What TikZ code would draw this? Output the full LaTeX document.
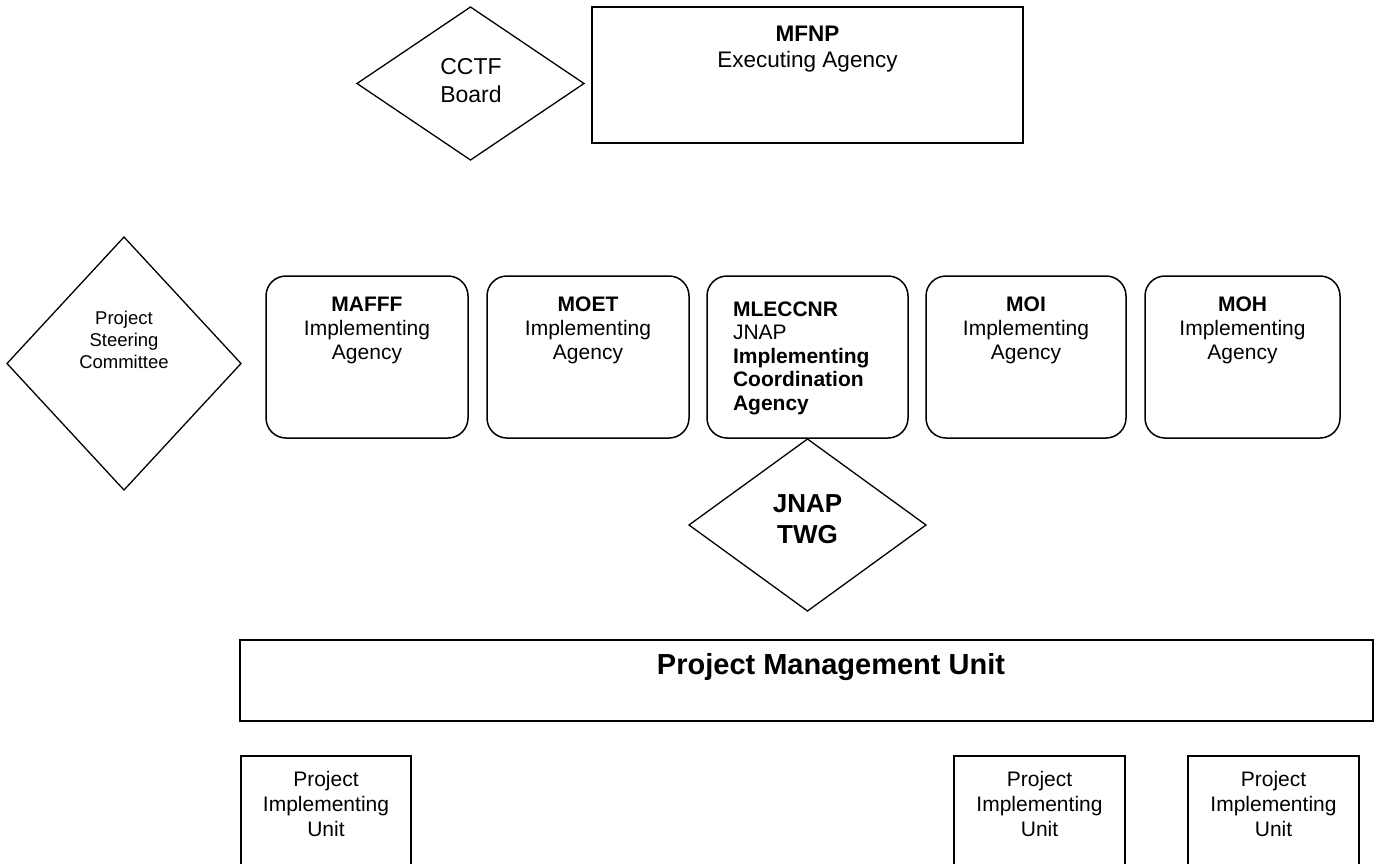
\documentclass[tikz,border=0pt]{standalone}
\usepackage{fontspec}
\setmainfont{Liberation Sans}
\usetikzlibrary{shapes.geometric}
\begin{document}
\begin{tikzpicture}[x=1pt,y=-1pt,
  sqbox/.style={draw, line width=1.8pt, rectangle, inner sep=0pt, outer sep=0pt},
  rbox/.style={draw, line width=1.5pt, rectangle, rounded corners=20pt, inner sep=0pt, outer sep=0pt, minimum height=162pt},
  dia/.style={draw, line width=1.3pt, diamond, inner sep=0pt, outer sep=0pt},
  txt/.style={inner sep=0pt, outer sep=0pt, align=center},
  agfont/.style={font=\fontsize{21}{24}\selectfont},
  piufont/.style={font=\fontsize{21}{25}\selectfont}
]
\useasboundingbox (0,0) rectangle (1376,863);
\clip (0,0) rectangle (1376,863);
\fill[white] (0,0) rectangle (1376,863);

% top row
\node[dia, minimum width=227pt, minimum height=153pt] (cctf) at (470.5,83.5) {};
\node[txt, font=\fontsize{23}{28}\selectfont] (cctft) at (471,81) {CCTF\\Board};
\node[sqbox, minimum width=431pt, minimum height=136pt] (mfnp) at (807.5,75) {};
\node[txt, font=\fontsize{22.5}{26}\selectfont] (mfnpt) at (807.5,49) {\textbf{MFNP}\\Executing Agency};

% steering committee
\node[dia, minimum width=234pt, minimum height=253pt] (psc) at (124,363.5) {};
\node[txt, font=\fontsize{18.5}{22}\selectfont] (psct) at (124,340) {Project\\Steering\\Committee};

% agencies
\node[rbox, minimum width=202pt] (mafff) at (367,357) {};
\node[txt, agfont] (mafft) at (367,330) {\textbf{MAFFF}\\Implementing\\Agency};
\node[rbox, minimum width=202pt] (moet) at (588,357) {};
\node[txt, agfont] (moett) at (588,330) {\textbf{MOET}\\Implementing\\Agency};
\node[rbox, minimum width=201pt] (mle) at (807.5,357) {};
\node[txt, align=left, anchor=west, font=\fontsize{21}{23.5}\selectfont] (mlet) at (733,358)
  {\textbf{MLECCNR}\\JNAP\\\textbf{Implementing}\\\textbf{Coordination}\\\textbf{Agency}};
\node[rbox, minimum width=200pt] (moi) at (1026,357) {};
\node[txt, agfont] (moit) at (1026,330) {\textbf{MOI}\\Implementing\\Agency};
\node[rbox, minimum width=195pt] (moh) at (1242.5,357) {};
\node[txt, agfont] (moht) at (1242.5,330) {\textbf{MOH}\\Implementing\\Agency};

% JNAP TWG
\node[dia, minimum width=237pt, minimum height=172pt] (twg) at (807.5,525) {};
\node[txt, font=\fontsize{26}{31}\selectfont\bfseries] (twgt) at (807.5,519) {JNAP\\TWG};

% PMU
\node[sqbox, minimum width=1133pt, minimum height=81pt] (pmu) at (806.5,680.5) {};
\node[txt, font=\fontsize{29}{34}\selectfont\bfseries] (pmut) at (831,667) {Project Management Unit};

% PIUs
\node[sqbox, minimum width=170pt, minimum height=144pt] (piu1) at (326,828) {};
\node[txt, piufont] (piu1t) at (326,804) {Project\\Implementing\\Unit};
\node[sqbox, minimum width=171pt, minimum height=144pt] (piu2) at (1039.5,828) {};
\node[txt, piufont] (piu2t) at (1039.5,804) {Project\\Implementing\\Unit};
\node[sqbox, minimum width=171pt, minimum height=144pt] (piu3) at (1273.5,828) {};
\node[txt, piufont] (piu3t) at (1273.5,804) {Project\\Implementing\\Unit};
\end{tikzpicture}
\end{document}
